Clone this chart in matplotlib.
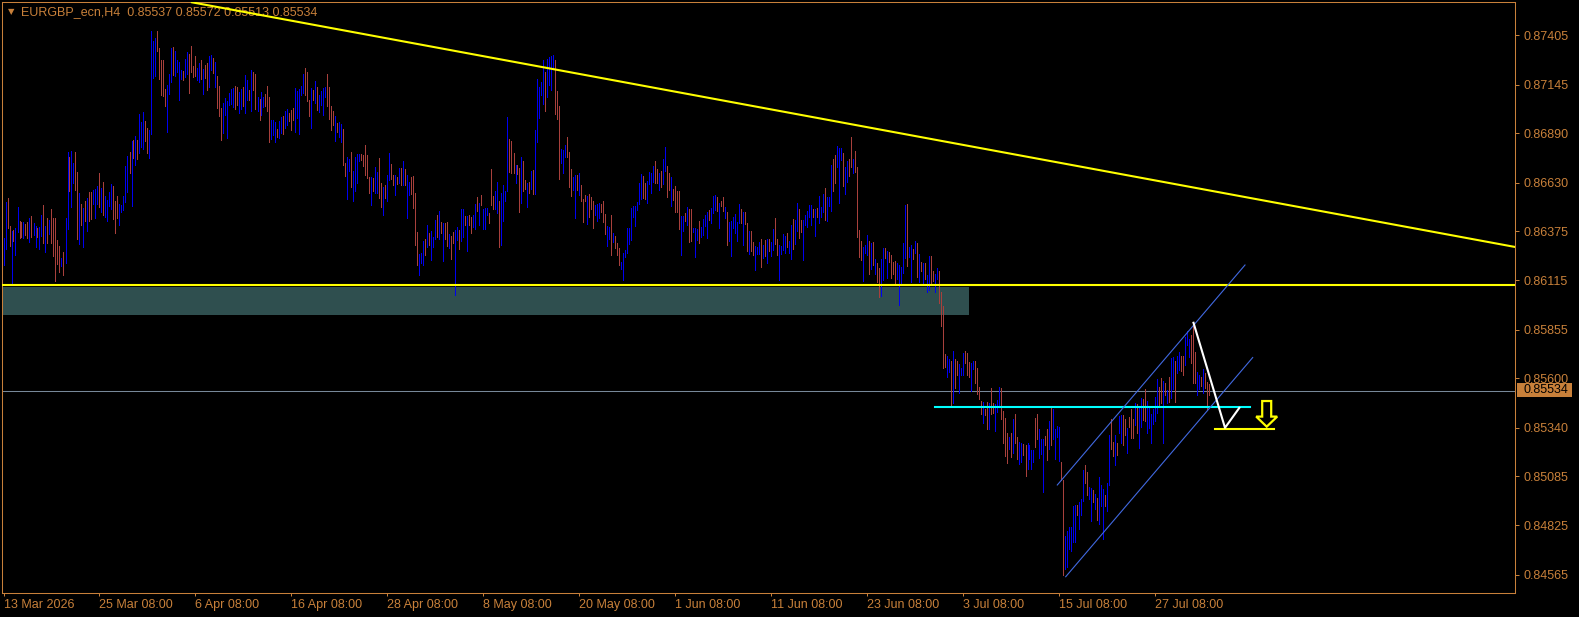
import matplotlib.pyplot as plt
import numpy as np
from matplotlib.patches import Rectangle, Polygon
import matplotlib.transforms as mtransforms

plt.rcParams['font.family'] = ['Liberation Sans', 'DejaVu Sans']

# H4 bars, prices in points (1e-5)
high_pts = [
    86338, 86527, 86549, 86401, 86375, 86380, 86391, 86501, 86428, 86422,
    86422, 86412, 86422, 86444, 86454, 86417, 86401, 86391, 86396, 86460,
    86512, 86401, 86444, 86433, 86491, 86444, 86444, 86328, 86296, 86233,
    86264, 86444, 86790, 86764, 86796, 86733, 86790, 86685, 86575, 86517,
    86496, 86533, 86549, 86580, 86580, 86591, 86596, 86612, 86680, 86601,
    86633, 86559, 86538, 86580, 86622, 86612, 86533, 86559, 86517, 86512,
    86559, 86717, 86770, 86790, 86849, 86854, 86875, 86854, 86991, 86949,
    87001, 86954, 86917, 86907, 87428, 87375, 87391, 87428, 87338, 87275,
    87275, 87122, 87144, 87202, 87338, 87344, 87323, 87275, 87265, 87223,
    87217, 87280, 87317, 87307, 87349, 87244, 87296, 87233, 87259, 87275,
    87228, 87249, 87259, 87296, 87301, 87286, 87265, 87191, 87138, 87022,
    87049, 87075, 87059, 87101, 87122, 87128, 87138, 87133, 87107, 87122,
    87133, 87196, 87170, 87117, 87223, 87212, 87202, 87080, 87070, 87107,
    87080, 87096, 87138, 87080, 86959, 86959, 86949, 86912, 86954, 86975,
    86980, 87007, 87017, 86996, 87012, 87022, 87128, 87112, 87122, 87138,
    87202, 87233, 87212, 87065, 87128, 87117, 87165, 87133, 87091, 87112,
    87128, 87133, 87202, 87133, 87033, 87007, 86980, 86943, 86949, 86938,
    86912, 86733, 86764, 86754, 86790, 86691, 86764, 86780, 86780, 86780,
    86775, 86828, 86775, 86659, 86659, 86654, 86712, 86685, 86759, 86628,
    86607, 86617, 86670, 86785, 86728, 86670, 86670, 86659, 86706, 86706,
    86743, 86701, 86670, 86633, 86659, 86664, 86575, 86369, 86254, 86259,
    86323, 86333, 86407, 86364, 86375, 86343, 86433, 86460, 86481, 86422,
    86417, 86417, 86422, 86359, 86348, 86369, 86380, 86396, 86380, 86491,
    86491, 86454, 86454, 86460, 86449, 86460, 86517, 86554, 86522, 86565,
    86491, 86496, 86496, 86470, 86701, 86559, 86586, 86633, 86533, 86575,
    86617, 86586, 86975, 86859, 86849, 86785, 86722, 86722, 86706, 86764,
    86743, 86643, 86628, 86633, 86691, 86696, 86907, 87175, 87133, 87159,
    87275, 87212, 87280, 87291, 87296, 87301, 87275, 87112, 87033, 86807,
    86801, 86828, 86870, 86790, 86701, 86659, 86670, 86670, 86680, 86617,
    86543, 86565, 86559, 86570, 86554, 86533, 86512, 86517, 86522, 86517,
    86533, 86465, 86401, 86396, 86460, 86364, 86348, 86312, 86286, 86212,
    86259, 86275, 86391, 86391, 86496, 86506, 86506, 86527, 86628, 86675,
    86664, 86628, 86638, 86685, 86680, 86717, 86743, 86701, 86680, 86691,
    86754, 86817, 86717, 86680, 86659, 86596, 86612, 86586, 86586, 86454,
    86454, 86470, 86501, 86491, 86491, 86391, 86391, 86386, 86428, 86396,
    86438, 86460, 86475, 86486, 86496, 86559, 86565, 86554, 86522, 86533,
    86554, 86501, 86475, 86422, 86428, 86449, 86465, 86422, 86517, 86491,
    86475, 86475, 86417, 86375, 86375, 86317, 86296, 86291, 86317, 86333,
    86301, 86328, 86333, 86333, 86317, 86386, 86444, 86333, 86301, 86296,
    86359, 86348, 86364, 86323, 86407, 86438, 86433, 86522, 86491, 86433,
    86433, 86460, 86481, 86512, 86512, 86491, 86491, 86496, 86559, 86501,
    86570, 86601, 86554, 86554, 86722, 86754, 86775, 86822, 86812, 86812,
    86785, 86712, 86743, 86754, 86870, 86754, 86796, 86712, 86380, 86323,
    86291, 86301, 86354, 86323, 86312, 86317, 86228, 86206, 86180, 86228,
    86286, 86286, 86270, 86264, 86249, 86212, 86217, 86206, 86196, 86185,
    86312, 86512, 86517, 86291, 86301, 86281, 86323, 86312, 86254, 86212,
    86206, 86206, 86143, 86243, 86243, 86164, 86149, 86180, 86164, 86054,
    85980, 85728, 85717, 85701, 85691, 85743, 85701, 85691, 85675, 85654,
    85733, 85743, 85733, 85685, 85680, 85691, 85691, 85654, 85554, 85480,
    85475, 85438, 85475, 85470, 85549, 85470, 85464, 85485, 85554, 85549,
    85428, 85391, 85312, 85291, 85312, 85385, 85412, 85291, 85264, 85259,
    85254, 85249, 85259, 85249, 85222, 85222, 85391, 85412, 85333, 85280,
    85280, 85296, 85333, 85375, 85449, 85438, 85333, 85349, 85343, 85159,
    85064, 84769, 84796, 84817, 84817, 84927, 84933, 84933, 84948, 84964,
    85117, 85144, 85107, 85028, 85022, 85012, 84991, 84970, 85080, 85038,
    85017, 84985, 85049, 85301, 85385, 85264, 85301, 85259, 85401, 85406,
    85406, 85385, 85338, 85396, 85438, 85385, 85470, 85464, 85449, 85496,
    85491, 85543, 85480, 85454, 85412, 85438, 85501, 85596, 85554, 85601,
    85585, 85575, 85538, 85606, 85706, 85712, 85691, 85717, 85738, 85717,
    85717, 85817, 85849, 85806, 85828, 85896, 85738, 85633, 85617, 85606,
    85649, 85627, 85580, 85572,
]
low_pts = [
    86196, 86281, 86391, 86296, 86101, 86323, 86249, 86369, 86338, 86343,
    86338, 86354, 86338, 86317, 86343, 86354, 86291, 86343, 86281, 86348,
    86312, 86264, 86312, 86359, 86312, 86243, 86112, 86201, 86159, 86191,
    86143, 86206, 86386, 86586, 86501, 86628, 86591, 86333, 86307, 86407,
    86291, 86428, 86375, 86428, 86438, 86517, 86444, 86517, 86501, 86475,
    86460, 86449, 86428, 86506, 86491, 86438, 86364, 86444, 86407, 86475,
    86486, 86527, 86580, 86680, 86506, 86759, 86722, 86754, 86785, 86817,
    86806, 86849, 86785, 86759, 86886, 87180, 87191, 87323, 87175, 87091,
    87086, 87033, 86896, 87096, 87159, 87196, 87191, 87212, 87065, 87175,
    87170, 87186, 87202, 87101, 87212, 87186, 87191, 87170, 87159, 87175,
    87096, 87180, 87117, 87133, 87223, 87207, 87133, 87022, 86980, 86854,
    86891, 86986, 86865, 87038, 87044, 87028, 87017, 87038, 86996, 87017,
    87033, 86996, 87065, 87065, 87007, 87117, 87017, 87007, 86959, 86986,
    87028, 87033, 87007, 86843, 86859, 86880, 86843, 86870, 86865, 86891,
    86886, 86917, 86933, 86954, 86907, 86959, 86896, 86970, 86886, 87091,
    87101, 87091, 87059, 86980, 86917, 87065, 87049, 87012, 87001, 87038,
    86986, 87080, 87033, 86965, 86907, 86933, 86849, 86896, 86870, 86843,
    86722, 86664, 86543, 86691, 86606, 86533, 86586, 86628, 86743, 86749,
    86717, 86670, 86654, 86575, 86512, 86586, 86575, 86575, 86549, 86501,
    86460, 86549, 86533, 86643, 86649, 86617, 86565, 86622, 86628, 86617,
    86617, 86617, 86444, 86565, 86570, 86496, 86301, 86196, 86143, 86206,
    86196, 86249, 86291, 86301, 86222, 86291, 86333, 86343, 86333, 86364,
    86217, 86333, 86296, 86286, 86228, 86312, 86038, 86328, 86281, 86323,
    86343, 86407, 86270, 86407, 86364, 86396, 86386, 86481, 86407, 86512,
    86386, 86386, 86460, 86417, 86512, 86491, 86491, 86470, 86291, 86301,
    86428, 86533, 86586, 86685, 86680, 86680, 86628, 86675, 86475, 86522,
    86586, 86596, 86501, 86575, 86596, 86570, 86570, 86843, 86970, 87091,
    87044, 87007, 87080, 87144, 87117, 87228, 86991, 86965, 86649, 86733,
    86680, 86764, 86764, 86607, 86559, 86591, 86444, 86591, 86565, 86533,
    86422, 86533, 86412, 86449, 86491, 86391, 86460, 86428, 86444, 86475,
    86422, 86359, 86296, 86333, 86249, 86317, 86286, 86249, 86196, 86175,
    86117, 86238, 86259, 86307, 86328, 86449, 86401, 86486, 86517, 86543,
    86549, 86543, 86522, 86622, 86575, 86633, 86628, 86628, 86591, 86607,
    86622, 86691, 86554, 86591, 86506, 86538, 86475, 86475, 86386, 86249,
    86375, 86428, 86407, 86317, 86323, 86369, 86238, 86328, 86312, 86343,
    86354, 86401, 86338, 86433, 86417, 86470, 86486, 86481, 86391, 86506,
    86481, 86444, 86301, 86323, 86243, 86391, 86364, 86323, 86417, 86417,
    86301, 86412, 86270, 86254, 86270, 86249, 86170, 86254, 86254, 86185,
    86233, 86243, 86206, 86270, 86243, 86275, 86307, 86249, 86117, 86254,
    86275, 86259, 86291, 86259, 86228, 86281, 86307, 86375, 86338, 86369,
    86222, 86407, 86396, 86449, 86407, 86449, 86348, 86449, 86417, 86449,
    86475, 86433, 86428, 86506, 86481, 86586, 86628, 86712, 86522, 86749,
    86612, 86570, 86633, 86664, 86712, 86680, 86685, 86343, 86238, 86222,
    86112, 86259, 86249, 86149, 86175, 86196, 86149, 86107, 86028, 86033,
    86117, 86233, 86128, 86212, 86128, 86149, 86101, 86122, 85985, 86101,
    86154, 86233, 86191, 86238, 86107, 86228, 86259, 86133, 86107, 86164,
    86101, 86122, 86054, 86064, 86101, 86112, 86054, 86122, 85996, 85875,
    85654, 85659, 85606, 85633, 85459, 85470, 85549, 85617, 85522, 85617,
    85617, 85680, 85617, 85606, 85533, 85649, 85575, 85517, 85491, 85412,
    85364, 85406, 85333, 85333, 85412, 85417, 85322, 85422, 85449, 85385,
    85259, 85191, 85154, 85228, 85185, 85207, 85259, 85175, 85149, 85159,
    85196, 85085, 85122, 85175, 85122, 85159, 85238, 85280, 85180, 85201,
    85001, 85249, 85170, 85228, 85249, 85280, 85175, 85291, 85164, 85064,
    84564, 84596, 84606, 84701, 84690, 84738, 84738, 84880, 84806, 84880,
    84954, 85049, 84985, 84964, 84848, 84948, 84912, 84854, 84833, 84927,
    84754, 84927, 84901, 85038, 85228, 85191, 85143, 85196, 85312, 85259,
    85249, 85301, 85207, 85343, 85285, 85285, 85354, 85312, 85233, 85343,
    85380, 85375, 85312, 85338, 85259, 85359, 85375, 85417, 85454, 85470,
    85259, 85512, 85470, 85475, 85496, 85543, 85475, 85627, 85643, 85638,
    85617, 85670, 85775, 85712, 85680, 85575, 85575, 85512, 85543, 85559,
    85522, 85549, 85433, 85513,
]
# u = bull bar (blue), d = bear bar (brown)
bar_dirs = ("uuddu duudd uddud uuduu dudud ddddu duudu uddud ududd uuudu "
            "duuuu ddduu uuudu duduu udduu uuddd dduuu duuuu duudd dduud "
            "udduu duddd uuuuu udduu duudu ddudu udddu uuduu duudd duuuu "
            "udddu duduu uuddd duduu dduud uuuud ddddu duudd uduud dudud "
            "uduud ddduu ududu uudud uddud duudu ududd uudud uuudd duudu "
            "uuudd duddu ddudu duuuu uduuu udddu uuddd uudud ddudd duuud "
            "dduud udddu uuuuu uuuuu dduuu uddud uuddu ddddu ududd uuudu "
            "uuudu uudud duduu uuuud uddud duuud ududu udduu uuduu duudd "
            "uuuuu duduu uduuu dduuu duudd udddd uuudu duddu ududd dduuu "
            "uuduu dudud uduud duudd dduud udduu udddu udddd uddud duuud "
            "dddud udduu dduuu udduu uddud uuuud duuuu uuduu udduu duduu "
            "uduud duduu ddudd duduu dduuu uuudd ududu uduud duuud dduud "
            "uddd").replace(" ", "")

last_ohlc = [0.85537, 0.85572, 0.85513, 0.85534]

price_ticks = [0.87405, 0.87145, 0.86890, 0.86630, 0.86375, 0.86115,
               0.85855, 0.85600, 0.85340, 0.85085, 0.84825, 0.84565]
date_labels = ["13 Mar 2026", "25 Mar 08:00", "6 Apr 08:00", "16 Apr 08:00",
               "28 Apr 08:00", "8 May 08:00", "20 May 08:00", "1 Jun 08:00",
               "11 Jun 08:00", "23 Jun 08:00", "3 Jul 08:00", "15 Jul 08:00",
               "27 Jul 08:00"]
bars_per_label = 48

# drawn objects (bar index, price)
trend_pts = [(96.75, 0.87574), (755.75, 0.86291)]
support_level = 0.86092
zone = (-10, 482.75, 0.85934, 0.86082)
level_cyan = (465.75, 623.25, 0.85450)
channel_up = [(526.9, 0.85038), (620.75, 0.86196)]
channel_dn = [(531.1, 0.84555), (624.6, 0.85709)]
path_white = [(595, 0.85892), (610.75, 0.85339), (617.9, 0.85444)]
target_line = (606, 635.1, 0.85334)
arrow_x, arrow_top, arrow_neck, arrow_tip = 631.6, 0.85480, 0.85398, 0.85345

fg = '#C8803A'
up_col = '#0000F0'
dn_col = '#A8403C'

n = min(len(high_pts), len(low_pts), len(bar_dirs))
highs = np.array(high_pts[:n]) / 1e5
lows = np.array(low_pts[:n]) / 1e5
idx = np.arange(n)
cols = [up_col if c == 'u' else dn_col for c in bar_dirs[:n]]

W, H = 1579, 617
fig = plt.figure(figsize=(W / 100, H / 100), dpi=100, facecolor='black')
ax = fig.add_axes([2.3 / W, 24 / H, 1512.7 / W, 590.7 / H])
ax.set_facecolor('black')
ax.set_xlim(-0.6, 755.75)
ax.set_ylim(0.844694, 0.875789)

# zone rectangle behind the bars
ax.add_patch(Rectangle((zone[0], zone[2]), zone[1] - zone[0], zone[3] - zone[2],
                       facecolor='#2F4F4F', edgecolor='none', zorder=1))

ax.vlines(idx, lows, highs, colors=cols, linewidth=0.6, antialiased=False, zorder=3)

ax.axhline(last_ohlc[3], color='#778899', lw=0.75, zorder=2)
ax.axhline(support_level, color='#FFFF00', lw=1.5, zorder=4)
ax.axline(trend_pts[0], trend_pts[1], color='#FFFF00', lw=1.5, zorder=4)
ax.plot(level_cyan[:2], [level_cyan[2]] * 2, color='#00FFFF', lw=1.5, zorder=4)
for ch in (channel_up, channel_dn):
    ax.plot([p[0] for p in ch], [p[1] for p in ch], color='#4169E1', lw=0.8, zorder=4)
ax.plot([p[0] for p in path_white], [p[1] for p in path_white], color='white', lw=1.5, zorder=5)
ax.plot(target_line[:2], [target_line[2]] * 2, color='#FFFF00', lw=1.5, zorder=4)

sw, hw = 2.25, 5.25
arrow = [(arrow_x - sw, arrow_top), (arrow_x + sw, arrow_top), (arrow_x + sw, arrow_neck),
         (arrow_x + hw, arrow_neck), (arrow_x, arrow_tip), (arrow_x - hw, arrow_neck),
         (arrow_x - sw, arrow_neck)]
ax.add_patch(Polygon(arrow, closed=True, facecolor='black', edgecolor='#FFFF00', lw=1.6, zorder=5))

for s in ax.spines.values():
    s.set_color(fg)
    s.set_linewidth(0.75)

ax.yaxis.tick_right()
ax.set_yticks(price_ticks)
ax.set_yticklabels([f'{v:.5f}' for v in price_ticks])
ax.tick_params(axis='y', colors=fg, length=2.9, width=0.72, pad=2.9, labelsize=9)
ax.set_xticks(np.arange(len(date_labels)) * bars_per_label)
ax.set_xticklabels(date_labels, ha='left')
ax.tick_params(axis='x', colors=fg, length=2.2, width=0.72, pad=2, labelsize=9)

# current price tag
blend = mtransforms.blended_transform_factory(ax.transAxes, ax.transData)
box_h = 14 * 5.264e-5
ax.add_patch(Rectangle((1.0013, last_ohlc[3] - box_h / 2 + 0.00005), 0.0364, box_h,
                       transform=blend, facecolor=fg, edgecolor='none', clip_on=False, zorder=10))
ax.text(1.0053, last_ohlc[3] + 0.00005, f'{last_ohlc[3]:.5f}', transform=blend, color='black',
        fontsize=9, va='center', ha='left', clip_on=False, zorder=11)

# header
ax.text(8 / W, 1 - 12 / H, '▼', transform=fig.transFigure, color=fg, fontsize=6,
        family='DejaVu Sans', va='center', zorder=1)
ax.text(21 / W, 1 - 12 / H,
        'EURGBP_ecn,H4  ' + ' '.join(f'{v:.5f}' for v in last_ohlc),
        transform=fig.transFigure, color=fg, fontsize=9, va='center', zorder=1)

fig.savefig('out.png', dpi=100, facecolor='black')
